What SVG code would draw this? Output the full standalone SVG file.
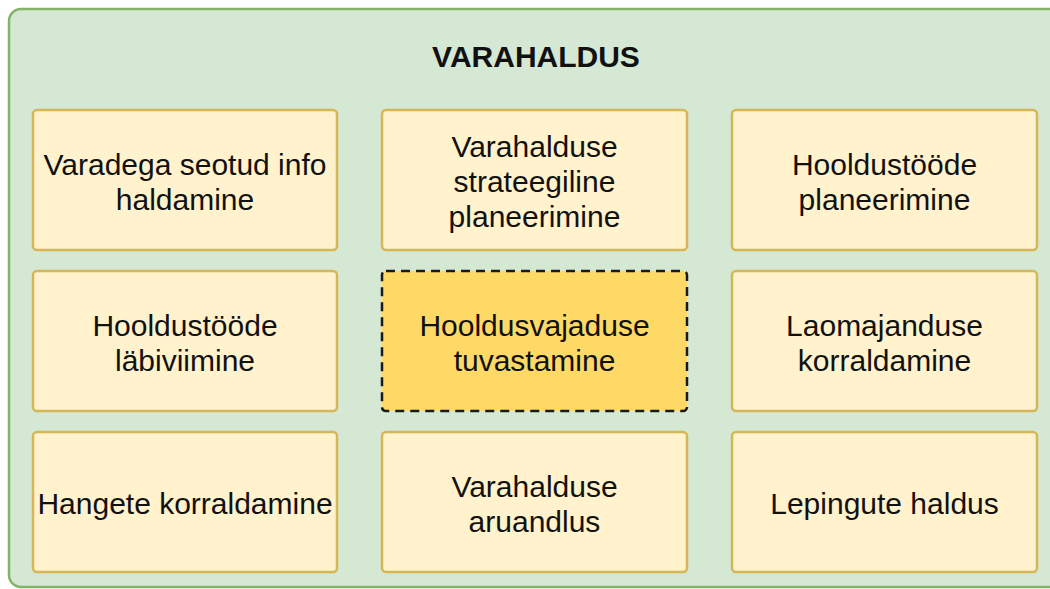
<svg xmlns="http://www.w3.org/2000/svg" width="1050" height="589" viewBox="0 0 1050 589">
  <style>
    .box { fill: #fff2cc; stroke: #d6b656; stroke-width: 2.5; }
    .focus { fill: #ffd966; stroke: #1a1a1a; stroke-width: 2.5; stroke-dasharray: 9 6; }
    .label { font-family: "Liberation Sans", Arial, sans-serif; font-size: 30px; fill: #111111; text-anchor: middle; }
    .title { font-family: "Liberation Sans", Arial, sans-serif; font-size: 30px; font-weight: bold; fill: #111111; text-anchor: middle; }
  </style>
  <rect width="1050" height="589" fill="#ffffff"/>
  <g id="varahaldus">
    <rect x="9" y="9" width="1070" height="578" rx="12" fill="#d5e8d4" stroke="#82b366" stroke-width="2.5"/>
    <text class="title" x="536" y="67">VARAHALDUS</text>
  </g>
  <g id="info-haldamine">
    <rect class="box" x="33" y="110" width="304" height="140" rx="4"/>
    <text class="label" x="185" y="175">Varadega seotud info</text>
    <text class="label" x="185" y="210">haldamine</text>
  </g>
  <g id="strateegiline-planeerimine">
    <rect class="box" x="382" y="110" width="305" height="140" rx="4"/>
    <text class="label" x="534.5" y="157">Varahalduse</text>
    <text class="label" x="534.5" y="192">strateegiline</text>
    <text class="label" x="534.5" y="227">planeerimine</text>
  </g>
  <g id="hooldustoode-planeerimine">
    <rect class="box" x="732" y="110" width="305" height="140" rx="4"/>
    <text class="label" x="884.5" y="175">Hooldustööde</text>
    <text class="label" x="884.5" y="210">planeerimine</text>
  </g>
  <g id="hooldustoode-labiviimine">
    <rect class="box" x="33" y="271" width="304" height="140" rx="4"/>
    <text class="label" x="185" y="336">Hooldustööde</text>
    <text class="label" x="185" y="371">läbiviimine</text>
  </g>
  <g id="hooldusvajaduse-tuvastamine">
    <rect class="focus" x="382" y="271" width="305" height="140" rx="4"/>
    <text class="label" x="534.5" y="336">Hooldusvajaduse</text>
    <text class="label" x="534.5" y="371">tuvastamine</text>
  </g>
  <g id="laomajanduse-korraldamine">
    <rect class="box" x="732" y="271" width="305" height="140" rx="4"/>
    <text class="label" x="884.5" y="336">Laomajanduse</text>
    <text class="label" x="884.5" y="371">korraldamine</text>
  </g>
  <g id="hangete-korraldamine">
    <rect class="box" x="33" y="432" width="304" height="140" rx="4"/>
    <text class="label" x="185" y="514">Hangete korraldamine</text>
  </g>
  <g id="varahalduse-aruandlus">
    <rect class="box" x="382" y="432" width="305" height="140" rx="4"/>
    <text class="label" x="534.5" y="497">Varahalduse</text>
    <text class="label" x="534.5" y="532">aruandlus</text>
  </g>
  <g id="lepingute-haldus">
    <rect class="box" x="732" y="432" width="305" height="140" rx="4"/>
    <text class="label" x="884.5" y="514">Lepingute haldus</text>
  </g>
  <g id="connectors"></g>
</svg>
